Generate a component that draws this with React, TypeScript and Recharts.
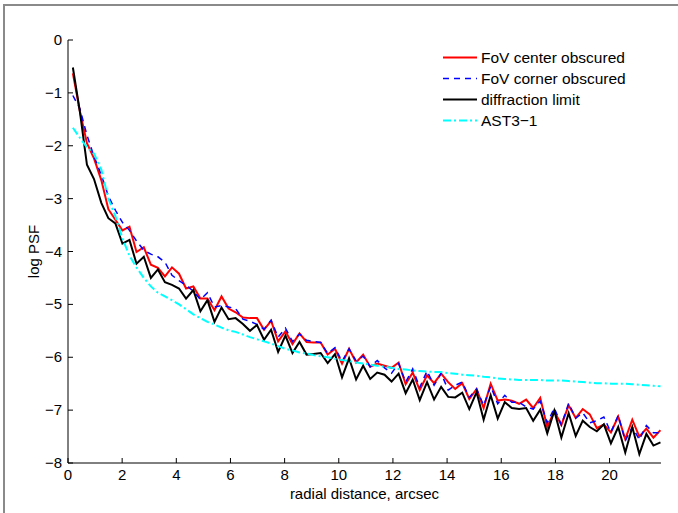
import React from "react";
import { LineChart, Line, XAxis, YAxis, Legend } from "recharts";

// radial distance, arcsec (sample positions)
const radius = [
  0.18, 0.44, 0.7, 0.96, 1.23, 1.49, 1.75, 2.01, 2.27, 2.53,
  2.8, 3.06, 3.32, 3.58, 3.84, 4.1, 4.36, 4.63, 4.89, 5.15,
  5.41, 5.67, 5.93, 6.19, 6.46, 6.72, 6.98, 7.24, 7.5, 7.76,
  8.03, 8.29, 8.55, 8.81, 9.07, 9.33, 9.59, 9.86, 10.12, 10.38,
  10.64, 10.9, 11.16, 11.42, 11.69, 11.95, 12.21, 12.47, 12.73, 12.99,
  13.26, 13.52, 13.78, 14.04, 14.3, 14.56, 14.82, 15.09, 15.35, 15.61,
  15.87, 16.13, 16.39, 16.66, 16.92, 17.18, 17.44, 17.7, 17.96, 18.22,
  18.49, 18.75, 19.01, 19.27, 19.53, 19.79, 20.05, 20.32, 20.58, 20.84,
  21.1, 21.36, 21.62, 21.88,
];

const centerObscured = [
  -0.63, -1.35, -1.95, -2.24, -2.65, -3.2, -3.4, -3.6, -3.53, -4.01,
  -3.92, -4.25, -4.31, -4.47, -4.3, -4.42, -4.7, -4.66, -4.89, -4.89,
  -5.11, -4.85, -5.08, -5.15, -5.25, -5.26, -5.26, -5.48, -5.31, -5.7,
  -5.51, -5.75, -5.55, -5.71, -5.72, -5.72, -5.95, -5.84, -6.12, -5.84,
  -6.1, -5.95, -6.18, -6.12, -6.16, -6.2, -6.1, -6.51, -6.29, -6.62,
  -6.34, -6.49, -6.31, -6.47, -6.6, -6.49, -6.79, -6.6, -6.96, -6.5,
  -6.82, -6.8, -6.82, -6.88, -6.8, -6.96, -6.77, -7.32, -7.02, -7.28,
  -6.91, -7.15, -6.98, -7.08, -7.34, -7.27, -7.42, -7.12, -7.55, -7.18,
  -7.5, -7.35, -7.52, -7.38,
];

const cornerObscured = [
  -1.05, -1.3, -1.8, -2.2, -2.55, -2.95, -3.22, -3.45, -3.6, -3.8,
  -3.98, -4.05, -4.1, -4.2, -4.45, -4.55, -4.64, -4.75, -4.91, -4.78,
  -5.05, -5.02, -5.05, -5.08, -5.28, -5.32, -5.38, -5.47, -5.3, -5.62,
  -5.45, -5.7, -5.56, -5.68, -5.7, -5.72, -5.93, -5.82, -6.08, -5.84,
  -6.07, -5.98, -6.18, -6.06, -6.2, -6.3, -6.12, -6.47, -6.22, -6.57,
  -6.26, -6.53, -6.3, -6.62, -6.53, -6.47, -6.76, -6.6, -6.91, -6.55,
  -6.88, -6.72, -6.85, -6.85, -6.94, -6.98, -6.83, -7.24, -6.96, -7.28,
  -6.87, -7.15, -7.05, -7.24, -7.2, -7.13, -7.42, -7.1, -7.58, -7.32,
  -7.56, -7.29, -7.43, -7.43,
];

const diffractionLimit = [
  -0.52, -1.36, -2.36, -2.63, -3.08, -3.37, -3.47, -3.85, -3.78, -4.23,
  -4.1, -4.5, -4.34, -4.58, -4.63, -4.7, -4.89, -4.73, -5.13, -4.92,
  -5.33, -5.06, -5.28, -5.26, -5.37, -5.5, -5.39, -5.67, -5.48, -5.9,
  -5.59, -5.92, -5.71, -5.95, -5.94, -5.92, -6.11, -5.94, -6.38, -6.02,
  -6.42, -6.16, -6.41, -6.29, -6.33, -6.46, -6.31, -6.68, -6.42, -6.81,
  -6.47, -6.8, -6.56, -6.75, -6.76, -6.67, -6.98, -6.66, -7.18, -6.72,
  -7.16, -6.85, -6.96, -6.98, -6.96, -7.2, -6.99, -7.44, -7.01, -7.52,
  -7.06, -7.49, -7.2, -7.32, -7.4, -7.27, -7.63, -7.32, -7.8, -7.32,
  -7.83, -7.45, -7.67, -7.61,
];

const ast31 = [
  -1.66, -1.85, -2.03, -2.15, -2.45, -3.0, -3.33, -3.75, -4.08, -4.3,
  -4.5, -4.66, -4.78, -4.85, -4.92, -5.0, -5.09, -5.19, -5.26, -5.33,
  -5.38, -5.44, -5.49, -5.52, -5.57, -5.62, -5.66, -5.7, -5.74, -5.79,
  -5.84, -5.87, -5.91, -5.93, -5.96, -5.98, -6.0, -6.03, -6.05, -6.07,
  -6.1, -6.12, -6.14, -6.16, -6.18, -6.2, -6.22, -6.23, -6.25, -6.26,
  -6.27, -6.28, -6.28, -6.3, -6.31, -6.33, -6.34, -6.35, -6.37, -6.38,
  -6.4, -6.41, -6.42, -6.43, -6.43, -6.43, -6.43, -6.44, -6.44, -6.44,
  -6.45, -6.46, -6.47, -6.48, -6.49, -6.49, -6.5, -6.5, -6.5, -6.51,
  -6.52, -6.53, -6.54, -6.55,
];

const xTicks = [0, 2, 4, 6, 8, 10, 12, 14, 16, 18, 20];
const yTicks = [0, -1, -2, -3, -4, -5, -6, -7, -8];

const legendItems = [
  { name: "FoV center obscured", color: "#ff0000", dash: undefined, width: 2 },
  { name: "FoV corner obscured", color: "#0000ff", dash: "6 5", width: 1.5 },
  { name: "diffraction limit", color: "#000000", dash: undefined, width: 2 },
  { name: "AST3\u22121", color: "#00ffff", dash: "8 3 2 3", width: 2 },
];

const data = radius.map((r, i) => ({
  r,
  center: centerObscured[i],
  corner: cornerObscured[i],
  diff: diffractionLimit[i],
  ast: ast31[i],
}));

const font = "'Liberation Sans', Arial, Helvetica, sans-serif";
const fmt = (v: number) => (v < 0 ? "\u2212" + Math.abs(v) : String(v));

const BottomTick = (props: any) => {
  const { x, y, payload } = props;
  return (
    <g>
      <line x1={x} x2={x} y1={y} y2={y - 5} stroke="#000" />
      <text x={x} y={y + 17} textAnchor="middle" fontSize={15} fontFamily={font} fill="#000">
        {payload.value}
      </text>
    </g>
  );
};

const TopTick = (props: any) => {
  const { x, y } = props;
  return <line x1={x} x2={x} y1={y} y2={y + 5} stroke="#000" />;
};

const LeftTick = (props: any) => {
  const { x, y, payload } = props;
  return (
    <g>
      <line x1={x} x2={x + 5} y1={y} y2={y} stroke="#000" />
      <text x={x - 6} y={y + 5} textAnchor="end" fontSize={15} fontFamily={font} fill="#000">
        {fmt(payload.value)}
      </text>
    </g>
  );
};

const RightTick = (props: any) => {
  const { x, y } = props;
  return <line x1={x} x2={x - 5} y1={y} y2={y} stroke="#000" />;
};

const renderLegend = () => (
  <div style={{ fontFamily: font, fontSize: 15.5, color: "#000" }}>
    {legendItems.map((item) => (
      <div key={item.name} style={{ display: "flex", alignItems: "center", height: 21 }}>
        <svg width={34} height={21}>
          <line
            x1={0}
            x2={34}
            y1={10.5}
            y2={10.5}
            stroke={item.color}
            strokeWidth={item.width}
            strokeDasharray={item.dash}
          />
        </svg>
        <span style={{ marginLeft: 4, whiteSpace: "nowrap" }}>{item.name}</span>
      </div>
    ))}
  </div>
);

export default function App() {
  return (
    <div style={{ position: "absolute", left: 0, top: 0, width: 678, height: 513, background: "#fff" }}>
      <div
        style={{
          position: "absolute",
          left: 3,
          top: 4,
          right: 0,
          bottom: 0,
          borderLeft: "2px solid #8a8a8a",
          borderTop: "2px solid #8a8a8a",
        }}
      />
      <LineChart
        width={678}
        height={513}
        data={data}
        margin={{ top: 40, right: 17, bottom: 0, left: 0 }}
        style={{ position: "absolute", left: 0, top: 0 }}
      >
        <XAxis
          dataKey="r"
          type="number"
          domain={[0, 21.9]}
          allowDataOverflow
          ticks={xTicks}
          interval={0}
          height={50}
          tickSize={0}
          tickMargin={0}
          tick={BottomTick}
          axisLine={{ stroke: "#000" }}
          tickLine={false}
          label={{
            value: "radial distance, arcsec",
            position: "insideBottom",
            offset: 14,
            style: { fontFamily: font, fontSize: 15, fill: "#000" },
          }}
        />
        <XAxis
          xAxisId="t"
          orientation="top"
          dataKey="r"
          type="number"
          domain={[0, 21.9]}
          allowDataOverflow
          ticks={xTicks}
          interval={0}
          height={0}
          tickSize={0}
          tickMargin={0}
          tick={TopTick}
          axisLine={{ stroke: "#000" }}
          tickLine={false}
        />
        <YAxis
          type="number"
          domain={[-8, 0]}
          allowDataOverflow
          ticks={yTicks}
          interval={0}
          width={68}
          tickSize={0}
          tickMargin={0}
          tick={LeftTick}
          axisLine={{ stroke: "#000" }}
          tickLine={false}
          label={{
            value: "log PSF",
            angle: -90,
            position: "insideLeft",
            offset: 34,
            style: { fontFamily: font, fontSize: 15, fill: "#000", textAnchor: "middle" },
          }}
        />
        <YAxis
          yAxisId="r"
          orientation="right"
          type="number"
          domain={[-8, 0]}
          allowDataOverflow
          ticks={yTicks}
          interval={0}
          width={0}
          tickSize={0}
          tickMargin={0}
          tick={RightTick}
          axisLine={{ stroke: "#000" }}
          tickLine={false}
        />
        <Legend
          layout="vertical"
          align="center"
          verticalAlign="middle"
          content={renderLegend}
          wrapperStyle={{ left: 443, top: 47, width: 230, height: 90 }}
        />
        <Line type="linear" dataKey="center" stroke="#ff0000" strokeWidth={2} dot={false} isAnimationActive={false} />
        <Line type="linear" dataKey="corner" stroke="#0000ff" strokeWidth={1.5} strokeDasharray="6 5" dot={false} isAnimationActive={false} />
        <Line type="linear" dataKey="diff" stroke="#000000" strokeWidth={2} dot={false} isAnimationActive={false} />
        <Line type="linear" dataKey="ast" stroke="#00ffff" strokeWidth={2} strokeDasharray="8 3 2 3" dot={false} isAnimationActive={false} />
      </LineChart>
    </div>
  );
}
